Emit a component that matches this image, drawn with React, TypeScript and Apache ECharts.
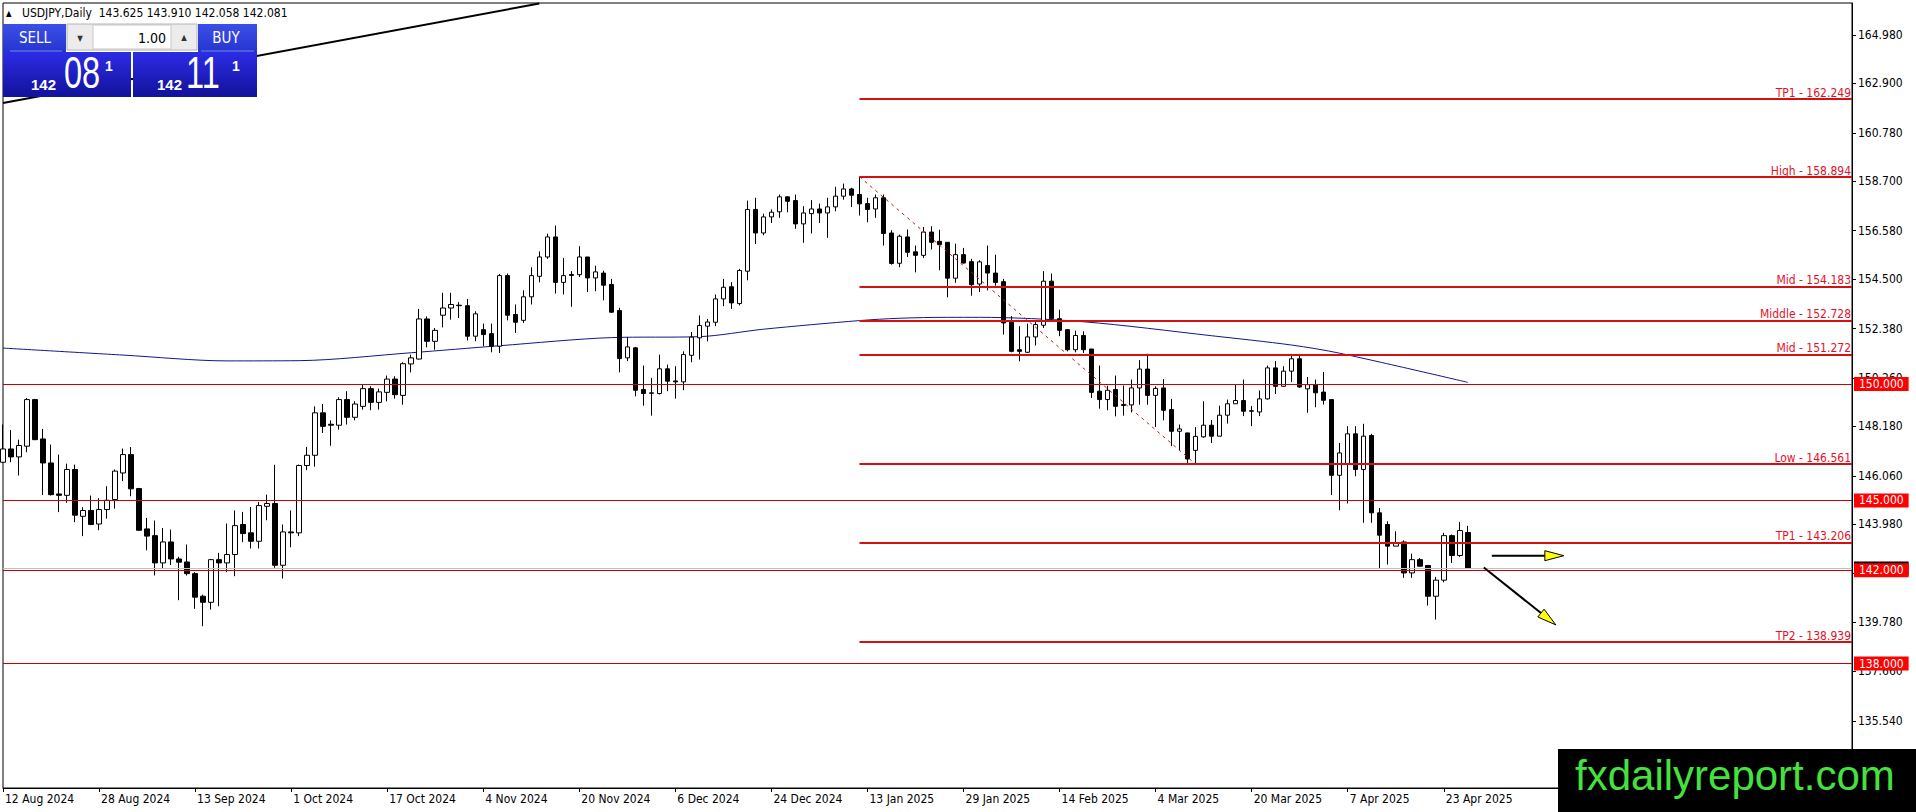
import { useEffect, useRef } from 'react'
import * as echarts from 'echarts'

// 行情：USDJPY 日线
const symbol = 'USDJPY'
const monthNames = ['Jan', 'Feb', 'Mar', 'Apr', 'May', 'Jun', 'Jul', 'Aug', 'Sep', 'Oct', 'Nov', 'Dec']

const dates = [
  '2024-08-12', '2024-08-13', '2024-08-14', '2024-08-15', '2024-08-16', '2024-08-19', '2024-08-20', '2024-08-21', '2024-08-22', '2024-08-23',
  '2024-08-26', '2024-08-27', '2024-08-28', '2024-08-29', '2024-08-30',
  '2024-09-02', '2024-09-03', '2024-09-04', '2024-09-05', '2024-09-06', '2024-09-09', '2024-09-10', '2024-09-11', '2024-09-12', '2024-09-13',
  '2024-09-16', '2024-09-17', '2024-09-18', '2024-09-19', '2024-09-20', '2024-09-23', '2024-09-24', '2024-09-25', '2024-09-26', '2024-09-27', '2024-09-30',
  '2024-10-01', '2024-10-02', '2024-10-03', '2024-10-04', '2024-10-07', '2024-10-08', '2024-10-09', '2024-10-10', '2024-10-11',
  '2024-10-14', '2024-10-15', '2024-10-16', '2024-10-17', '2024-10-18', '2024-10-21', '2024-10-22', '2024-10-23', '2024-10-24', '2024-10-25',
  '2024-10-28', '2024-10-29', '2024-10-30', '2024-10-31', '2024-11-01',
  '2024-11-04', '2024-11-05', '2024-11-06', '2024-11-07', '2024-11-08', '2024-11-11', '2024-11-12', '2024-11-13', '2024-11-14', '2024-11-15',
  '2024-11-18', '2024-11-19', '2024-11-20', '2024-11-21', '2024-11-22', '2024-11-25', '2024-11-26', '2024-11-27', '2024-11-28', '2024-11-29',
  '2024-12-02', '2024-12-03', '2024-12-04', '2024-12-05', '2024-12-06', '2024-12-09', '2024-12-10', '2024-12-11', '2024-12-12', '2024-12-13',
  '2024-12-16', '2024-12-17', '2024-12-18', '2024-12-19', '2024-12-20', '2024-12-23', '2024-12-24', '2024-12-26', '2024-12-27',
  '2024-12-30', '2024-12-31', '2025-01-02', '2025-01-03',
  '2025-01-06', '2025-01-07', '2025-01-08', '2025-01-09', '2025-01-10', '2025-01-13', '2025-01-14', '2025-01-15', '2025-01-16', '2025-01-17',
  '2025-01-20', '2025-01-21', '2025-01-22', '2025-01-23', '2025-01-24', '2025-01-27', '2025-01-28', '2025-01-29', '2025-01-30', '2025-01-31',
  '2025-02-03', '2025-02-04', '2025-02-05', '2025-02-06', '2025-02-07', '2025-02-10', '2025-02-11', '2025-02-12', '2025-02-13', '2025-02-14',
  '2025-02-17', '2025-02-18', '2025-02-19', '2025-02-20', '2025-02-21', '2025-02-24', '2025-02-25', '2025-02-26', '2025-02-27', '2025-02-28',
  '2025-03-03', '2025-03-04', '2025-03-05', '2025-03-06', '2025-03-07', '2025-03-10', '2025-03-11', '2025-03-12', '2025-03-13', '2025-03-14',
  '2025-03-17', '2025-03-18', '2025-03-19', '2025-03-20', '2025-03-21', '2025-03-24', '2025-03-25', '2025-03-26', '2025-03-27', '2025-03-28',
  '2025-03-31', '2025-04-01', '2025-04-02', '2025-04-03', '2025-04-04', '2025-04-07', '2025-04-08', '2025-04-09', '2025-04-10', '2025-04-11',
  '2025-04-14', '2025-04-15', '2025-04-16', '2025-04-17', '2025-04-18', '2025-04-21', '2025-04-22', '2025-04-23', '2025-04-24', '2025-04-25',
  '2025-04-28'
]

// [open, high, low, close]
const ohlc = [
  [146.64, 148.26, 146.61, 147.21], [147.21, 148.02, 146.64, 146.87], [146.87, 147.61, 146.07, 147.36], [147.33, 149.40, 147.07, 149.33],
  [149.33, 149.36, 147.59, 147.61], [147.64, 148.07, 145.23, 146.61], [146.61, 147.40, 145.21, 145.25], [145.28, 146.97, 144.50, 145.22],
  [145.22, 146.58, 144.90, 146.33], [146.33, 146.54, 144.07, 144.37], [144.32, 144.71, 143.47, 144.57], [144.57, 145.21, 143.94, 143.97],
  [143.99, 145.10, 143.72, 144.61], [144.61, 145.61, 144.22, 145.01], [145.04, 146.33, 144.65, 146.26], [146.18, 147.23, 145.83, 146.97],
  [146.97, 147.29, 145.18, 145.50], [145.51, 145.54, 143.72, 143.72], [143.78, 144.25, 142.86, 143.47], [143.49, 144.14, 141.78, 142.32],
  [142.32, 143.82, 142.06, 143.22], [143.22, 143.75, 142.23, 142.49], [142.49, 142.58, 140.72, 142.35], [142.36, 143.11, 141.78, 141.86],
  [141.86, 141.92, 140.35, 140.85], [140.89, 140.96, 139.60, 140.63], [140.63, 142.49, 140.32, 142.46], [142.46, 142.75, 140.46, 142.32],
  [142.32, 144.01, 141.92, 142.68], [142.68, 144.57, 141.75, 143.92], [143.97, 144.51, 143.21, 143.58], [143.61, 144.72, 142.94, 143.25],
  [143.25, 144.93, 142.94, 144.78], [144.75, 145.25, 144.15, 144.87], [144.87, 146.53, 142.11, 142.22], [142.22, 143.97, 141.65, 143.65],
  [143.65, 144.57, 142.99, 143.61], [143.61, 146.54, 143.47, 146.50], [146.50, 147.30, 146.30, 146.94], [146.94, 149.04, 146.45, 148.76],
  [148.76, 149.14, 147.90, 148.18], [148.27, 148.44, 147.35, 148.23], [148.23, 149.43, 148.04, 149.33], [149.33, 149.69, 148.26, 148.57],
  [148.57, 149.26, 148.44, 149.14], [149.04, 149.97, 148.90, 149.80], [149.80, 149.90, 148.87, 149.21], [149.21, 149.80, 148.90, 149.66],
  [149.64, 150.36, 149.26, 150.21], [150.21, 150.33, 149.37, 149.54], [149.51, 150.93, 149.11, 150.87], [150.86, 151.26, 150.50, 151.12],
  [151.07, 153.22, 151.05, 152.79], [152.79, 152.90, 151.57, 151.83], [151.83, 152.40, 151.47, 152.30], [152.95, 153.91, 152.43, 153.26],
  [153.26, 153.91, 152.76, 153.41], [153.38, 153.51, 152.83, 153.36], [153.36, 153.65, 151.87, 152.05], [152.05, 153.12, 151.83, 153.01],
  [152.33, 152.59, 151.62, 152.12], [152.16, 152.59, 151.36, 151.62], [151.62, 154.72, 151.33, 154.65], [154.65, 154.74, 152.73, 152.95],
  [152.98, 153.41, 152.19, 152.65], [152.73, 154.02, 152.62, 153.74], [153.74, 155.01, 153.41, 154.65], [154.62, 155.69, 154.36, 155.45],
  [155.45, 156.45, 155.37, 156.31], [156.31, 156.80, 153.88, 154.36], [154.36, 155.41, 153.84, 154.65], [154.70, 154.84, 153.31, 154.66],
  [154.69, 155.91, 154.59, 155.45], [155.45, 155.45, 153.94, 154.55], [154.55, 155.08, 153.98, 154.81], [154.76, 154.86, 153.59, 154.24],
  [154.27, 154.51, 153.05, 153.08], [153.15, 153.27, 150.50, 151.09], [151.12, 152.02, 150.98, 151.59], [151.55, 151.59, 149.47, 149.73],
  [149.76, 150.79, 149.07, 149.59], [149.60, 150.26, 148.64, 149.62], [149.59, 151.26, 149.55, 150.65], [150.65, 150.83, 149.69, 150.12],
  [150.13, 150.76, 149.37, 150.09], [150.09, 151.40, 149.73, 151.26], [151.23, 152.23, 150.93, 152.01], [151.98, 152.94, 151.05, 152.51],
  [152.48, 152.79, 151.83, 152.66], [152.65, 153.84, 152.48, 153.65], [153.65, 154.51, 153.34, 154.15], [154.17, 154.37, 153.22, 153.48],
  [153.45, 154.94, 153.37, 154.87], [154.84, 157.87, 154.45, 157.49], [157.49, 157.99, 156.01, 156.48], [156.48, 157.31, 156.38, 157.17],
  [157.17, 157.49, 156.91, 157.37], [157.39, 158.13, 157.13, 158.03], [158.03, 158.06, 157.37, 157.84], [157.87, 158.13, 156.66, 156.87],
  [156.87, 157.63, 156.06, 157.34], [157.31, 157.89, 156.46, 157.51], [157.51, 157.74, 156.91, 157.34], [157.34, 157.99, 156.27, 157.60],
  [157.60, 158.46, 157.41, 158.06], [158.06, 158.60, 157.91, 158.37], [158.37, 158.42, 157.59, 158.10], [158.13, 158.894, 157.23, 157.73],
  [157.74, 157.99, 156.94, 157.49], [157.51, 158.13, 157.13, 157.99], [157.99, 158.13, 155.94, 156.46], [156.48, 156.60, 155.12, 155.17],
  [155.18, 156.41, 155.01, 156.34], [156.31, 156.63, 155.45, 155.65], [155.67, 155.94, 154.79, 155.52], [155.52, 156.74, 155.41, 156.52],
  [156.52, 156.77, 155.77, 156.08], [156.12, 156.62, 154.88, 155.98], [156.08, 156.08, 153.72, 154.54], [154.54, 156.02, 154.34, 155.55],
  [155.55, 155.84, 155.17, 155.19], [155.25, 155.37, 153.79, 154.26], [154.29, 155.31, 153.94, 155.24], [155.08, 155.94, 154.02, 154.76],
  [154.76, 155.55, 154.22, 154.36], [154.39, 154.51, 152.12, 152.62], [152.65, 152.91, 151.36, 151.40], [151.47, 152.48, 150.97, 151.40],
  [151.36, 152.59, 151.33, 152.02], [152.02, 152.69, 151.65, 152.55], [152.52, 154.84, 152.40, 154.41], [154.41, 154.74, 152.73, 152.80],
  [152.80, 153.19, 152.05, 152.30], [152.33, 152.36, 151.40, 151.47], [151.47, 152.29, 151.36, 152.08], [152.08, 152.26, 151.33, 151.47],
  [151.50, 151.50, 149.40, 149.64], [149.69, 150.79, 148.94, 149.33], [149.33, 149.93, 148.87, 149.73], [149.76, 150.36, 148.61, 149.04],
  [149.12, 149.93, 148.64, 149.08], [149.10, 150.19, 148.78, 149.83], [149.83, 151.02, 149.11, 150.64], [150.64, 151.30, 149.11, 149.51],
  [149.51, 149.90, 148.15, 149.81], [149.83, 150.21, 148.44, 148.87], [148.90, 149.36, 147.33, 147.97], [147.97, 148.26, 147.15, 148.07],
  [147.90, 147.90, 146.61, 146.78], [147.15, 148.15, 146.561, 147.75], [147.73, 149.26, 147.69, 148.23], [148.23, 148.45, 147.47, 147.76],
  [147.76, 149.07, 147.76, 148.66], [148.66, 149.33, 148.30, 149.15], [149.15, 149.97, 149.15, 149.29], [149.29, 150.19, 148.62, 148.83],
  [148.85, 149.05, 148.19, 148.83], [148.80, 149.72, 148.62, 149.36], [149.36, 150.79, 149.33, 150.69], [150.69, 150.98, 149.57, 149.90],
  [149.90, 150.76, 149.88, 150.55], [150.55, 151.22, 150.08, 151.08], [151.08, 151.26, 149.83, 149.87], [149.79, 150.30, 148.76, 149.97],
  [149.97, 150.19, 149.00, 149.62], [149.65, 150.52, 149.12, 149.30], [149.33, 149.33, 145.23, 146.08], [146.08, 147.47, 144.58, 147.04],
  [146.58, 148.19, 144.87, 147.86], [147.86, 148.19, 146.04, 146.33], [146.33, 148.29, 144.04, 147.76], [147.79, 147.86, 144.04, 144.47],
  [144.47, 144.68, 142.08, 143.51], [143.97, 144.11, 142.25, 143.04], [143.04, 143.68, 143.04, 143.18], [143.22, 143.29, 141.68, 141.89],
  [141.89, 142.72, 141.68, 142.46], [142.46, 142.53, 142.15, 142.18], [142.21, 142.21, 140.49, 140.89], [140.89, 141.72, 139.89, 141.58],
  [141.58, 143.61, 141.49, 143.49], [143.49, 143.54, 142.32, 142.64], [142.64, 144.08, 142.58, 143.71], [143.625, 143.910, 142.058, 142.081]
]

// 200 日均线（按图读取的若干点：[柱序号, 数值]）
const maPoints = [
  [0, 151.54], [15, 151.24], [28, 150.99], [37, 151.0], [51, 151.34], [62, 151.64], [76, 151.99], [87, 152.03], [95, 152.35],
  [107, 152.72], [112, 152.82], [118, 152.86], [122, 152.86], [135, 152.67], [151, 152.07], [161, 151.67], [167, 151.32], [183, 150.07]
]

const xLabels = [
  '12 Aug 2024', '28 Aug 2024', '13 Sep 2024', '1 Oct 2024', '17 Oct 2024', '4 Nov 2024', '20 Nov 2024', '6 Dec 2024',
  '24 Dec 2024', '13 Jan 2025', '29 Jan 2025', '14 Feb 2025', '4 Mar 2025', '20 Mar 2025', '7 Apr 2025', '23 Apr 2025'
]
// 刻度线位置；141.880 和 133.420 的文字被红框/水印盖住，只留刻度
const yTicks = [133.42, 135.54, 137.66, 139.78, 141.88, 143.98, 146.06, 148.18, 150.26, 152.38, 154.5, 156.58, 158.7, 160.78, 162.9, 164.98]
const yTickLabels = [135.54, 137.66, 139.78, 143.98, 146.06, 148.18, 150.26, 152.38, 154.5, 156.58, 158.7, 160.78, 162.9, 164.98]

// 斐波那契 / 目标位（从高点那根柱开始画到右边）
const levelStart = '2025-01-10'
const levels = [
  { name: 'TP1', value: 162.249 }, { name: 'High', value: 158.894 }, { name: 'Mid', value: 154.183 },
  { name: 'Middle', value: 152.728 }, { name: 'Mid', value: 151.272 }, { name: 'Low', value: 146.561 },
  { name: 'TP1', value: 143.206 }, { name: 'TP2', value: 138.939 }
]
const roundLevels = [150, 145, 142, 138]
const swing = [['2025-01-10', 158.894], ['2025-03-11', 146.561]]
const trendLine = [['2024-08-12', 162.06], ['2024-11-13', 166.33]]
// 箭头 [x1, y1, x2, y2]，x 为柱序号
const arrows = [[186, 142.63, 195, 142.63], [185, 142.12, 194, 139.66]]
const futureBars = 48

const FONT = 'Tahoma, "DejaVu Sans Condensed", "DejaVu Sans", sans-serif'
const ARIAL = '"Liberation Sans", Arial, sans-serif'

const fmtDate = (d: string) => {
  const [y, m, day] = d.split('-')
  return `${Number(day)} ${monthNames[Number(m) - 1]} ${y}`
}

const App: React.FC = () => {
  const chartRef = useRef<HTMLDivElement>(null)

  useEffect(() => {
    document.body.style.margin = '0'
    if (!chartRef.current) return
    const chart = echarts.init(chartRef.current, null, { renderer: 'svg' })

    const categories = dates.concat(Array.from({ length: futureBars }, (_, k) => 'f' + k))
    const lastCat = categories[categories.length - 1]
    const labelSet = new Set(xLabels)
    const showLabel = (i: number, v: string) => i < dates.length && labelSet.has(fmtDate(v))
    const last = ohlc[ohlc.length - 1]

    const blueGrad = (a: string, b: string) =>
      new echarts.graphic.LinearGradient(0, 0, 0, 1, [{ offset: 0, color: a }, { offset: 1, color: b }])

    const txt = (text: string, x: number, y: number, size: number, extra: any = {}, el: any = {}) => ({
      type: 'text', x, y, z: 25, ...el,
      style: { text, fill: '#fff', fontSize: size, fontFamily: FONT, align: 'left', verticalAlign: 'middle', ...extra }
    })

    // 左上角一键交易面板
    const panel: any[] = [
      txt('▲', 6, 13, 8, { fill: '#000' }),
      txt(`${symbol},Daily  ${last.map((v) => v.toFixed(3)).join(' ')}`, 22, 13, 12, { fill: '#000' }),
      { type: 'rect', z: 20, shape: { x: 3, y: 24, width: 63, height: 28 }, style: { fill: blueGrad('#3b4fe8', '#2536cf') } },
      { type: 'rect', z: 20, shape: { x: 198, y: 24, width: 59, height: 28 }, style: { fill: blueGrad('#3b4fe8', '#2536cf') } },
      { type: 'line', z: 21, shape: { x1: 10, y1: 51, x2: 62, y2: 51 }, style: { stroke: '#7283f0', lineWidth: 1 } },
      { type: 'line', z: 21, shape: { x1: 201, y1: 51, x2: 254, y2: 51 }, style: { stroke: '#7283f0', lineWidth: 1 } },
      txt('SELL', 35, 38, 15, { align: 'center' }),
      txt('BUY', 226, 38, 15, { align: 'center' }),
      { type: 'rect', z: 20, shape: { x: 67, y: 24, width: 130, height: 26 }, style: { fill: '#ececec', stroke: '#b4b4b4', lineWidth: 1 } },
      { type: 'rect', z: 21, shape: { x: 93, y: 25, width: 78, height: 24 }, style: { fill: '#fff', stroke: '#c8c8c8', lineWidth: 1 } },
      txt('▼', 80, 38, 8, { fill: '#333', align: 'center' }),
      txt('▲', 184, 37, 8, { fill: '#333', align: 'center' }),
      txt('1.00', 166, 38, 14, { fill: '#000', align: 'right' }),
      { type: 'rect', z: 20, shape: { x: 3, y: 52, width: 128, height: 45 }, style: { fill: blueGrad('#2c2ce6', '#12129a') } },
      { type: 'rect', z: 20, shape: { x: 133, y: 52, width: 124, height: 45 }, style: { fill: blueGrad('#2c2ce6', '#12129a') } },
      txt('142', 31, 84, 15, { fontWeight: 'bold', fontFamily: ARIAL }),
      txt('08', 64, 73, 44, { fontFamily: ARIAL }, { scaleX: 0.74 }),
      txt('1', 105, 66, 14, { fontWeight: 'bold', fontFamily: ARIAL }),
      txt('142', 157, 84, 15, { fontWeight: 'bold', fontFamily: ARIAL }),
      txt('11', 186, 73, 44, { fontFamily: ARIAL }, { scaleX: 0.74 }),
      txt('1', 232, 66, 14, { fontWeight: 'bold', fontFamily: ARIAL }),
      // 水印
      { type: 'rect', z: 30, shape: { x: 1558, y: 749, width: 358, height: 63 }, style: { fill: '#000' } },
      { type: 'text', z: 31, x: 1575, y: 775, style: { text: 'fxdailyreport.com', fill: '#45e23f', fontSize: 42, fontFamily: ARIAL, align: 'left', verticalAlign: 'middle' } }
    ]

    const axisBox = (v: number, bg: string) => ({
      show: true, position: 'end', formatter: v.toFixed(3), distance: 2,
      backgroundColor: bg, color: '#fff', fontSize: 12, fontFamily: FONT, padding: [1, 5, 1, 5]
    })

    const markData: any[] = [
      // 买价线（灰色）
      { yAxis: last[3], lineStyle: { color: '#c0c0c0', width: 1, type: 'solid' }, label: axisBox(last[3], '#000') },
      ...roundLevels.map((v) => ({ yAxis: v, lineStyle: { color: '#cc0000', width: 1, type: 'solid' }, label: axisBox(v, '#ff0000') })),
      ...levels.map((l) => [
        {
          coord: [levelStart, l.value],
          lineStyle: { color: '#d41010', width: 2, type: 'solid' },
          label: {
            show: true, position: 'insideEndTop', formatter: `${l.name} - ${l.value.toFixed(3)}`,
            color: '#e3102a', fontSize: 12, fontFamily: FONT, distance: [1, 0]
          }
        },
        { coord: [lastCat, l.value] }
      ]),
      [
        { coord: swing[0], lineStyle: { color: '#d41010', width: 1, type: [3, 4] }, label: { show: false } },
        { coord: swing[1] }
      ],
      [
        { coord: trendLine[0], lineStyle: { color: '#000', width: 2, type: 'solid' }, label: { show: false } },
        { coord: trendLine[1] }
      ]
    ]

    const option: any = {
      animation: false,
      backgroundColor: '#fff',
      grid: { left: 3, top: 3, right: 64, bottom: 24, show: true, borderColor: '#000', borderWidth: 1, backgroundColor: '#fff' },
      xAxis: {
        type: 'category',
        data: categories,
        boundaryGap: false,
        axisLine: { lineStyle: { color: '#000', width: 1 } },
        axisTick: { show: true, interval: showLabel, length: 4, lineStyle: { color: '#000' } },
        axisLabel: {
          interval: showLabel, formatter: (v: string) => (v.startsWith('f') ? '' : fmtDate(v)),
          align: 'left', color: '#000', fontSize: 12, fontFamily: FONT, margin: 5, padding: [0, 0, 0, 2]
        },
        splitLine: { show: false }
      },
      yAxis: {
        type: 'value',
        position: 'right',
        min: 132.66,
        max: 166.35,
        scale: true,
        axisLine: { show: true, lineStyle: { color: '#000', width: 1 } },
        axisTick: { show: true, customValues: yTicks, length: 4, lineStyle: { color: '#000' } },
        axisLabel: { customValues: yTickLabels, formatter: (v: number) => v.toFixed(3), color: '#000', fontSize: 12, fontFamily: FONT, margin: 6 },
        splitLine: { show: false }
      },
      series: [
        {
          name: 'MA',
          type: 'line',
          data: maPoints,
          showSymbol: false,
          smooth: 0.3,
          lineStyle: { color: '#14148f', width: 1 },
          silent: true,
          z: 1
        },
        {
          name: symbol,
          type: 'candlestick',
          data: ohlc.map(([o, h, l, c]) => [o, c, l, h]),
          barWidth: 5,
          itemStyle: { color: '#fff', color0: '#000', borderColor: '#000', borderColor0: '#000', borderWidth: 1 },
          markLine: { silent: true, symbol: ['none', 'none'], animation: false, data: markData }
        },
        {
          name: 'arrows',
          type: 'custom',
          data: arrows,
          encode: { x: [0, 2], y: [1, 3] },
          silent: true,
          z: 5,
          renderItem: (_p: any, api: any) => {
            const a = api.coord([api.value(0), api.value(1)])
            const b = api.coord([api.value(2), api.value(3)])
            const dx = b[0] - a[0]
            const dy = b[1] - a[1]
            const len = Math.hypot(dx, dy) || 1
            const ux = dx / len
            const uy = dy / len
            const hl = 19
            const hw = 5
            const bx = b[0] - ux * hl
            const by = b[1] - uy * hl
            return {
              type: 'group',
              children: [
                { type: 'line', shape: { x1: a[0], y1: a[1], x2: bx, y2: by }, style: { stroke: '#000', lineWidth: 2 } },
                {
                  type: 'polygon',
                  shape: { points: [[b[0], b[1]], [bx - uy * hw, by + ux * hw], [bx + uy * hw, by - ux * hw]] },
                  style: { fill: '#ffff00', stroke: '#000', lineWidth: 1 }
                }
              ]
            }
          }
        }
      ],
      graphic: { elements: panel }
    }

    chart.setOption(option)
    const handleResize = () => chart.resize()
    window.addEventListener('resize', handleResize)
    return () => {
      window.removeEventListener('resize', handleResize)
      chart.dispose()
    }
  }, [])

  return <div ref={chartRef} style={{ width: '1916px', height: '812px' }}></div>
}

export default App
